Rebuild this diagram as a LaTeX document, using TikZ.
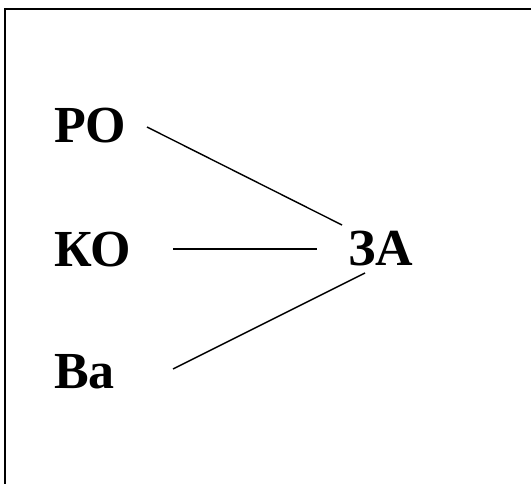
\documentclass[tikz,border=0pt]{standalone}
\usepackage{fontspec}
\setmainfont{Liberation Serif}
\begin{document}
\begin{tikzpicture}[x=1pt,y=1pt,
  lbl/.style={anchor=base west,inner sep=0pt,font=\fontsize{52}{60}\selectfont\bfseries},
  conn/.style={line width=1.4pt}]
\useasboundingbox (0,0) rectangle (531,483);
\draw[line width=2.5pt] (5,-5) -- (5,474) -- (540,474);
\node[lbl] (ro) at (54,340) {РО};
\node[lbl] (ko) at (54,216) {КО};
\node[lbl] (va) at (54,95) {Ва};
\node[lbl] (za) at (348,218) {ЗА};
\coordinate (ros) at (147,356);
\coordinate (zat) at (342,258);
\coordinate (kos) at (173,234);
\coordinate (zam) at (317,234);
\coordinate (vas) at (173,114);
\coordinate (zab) at (365,210);
\draw[conn] (ros) -- (zat);
\draw[conn] (kos) -- (zam);
\draw[conn] (vas) -- (zab);
\end{tikzpicture}
\end{document}
